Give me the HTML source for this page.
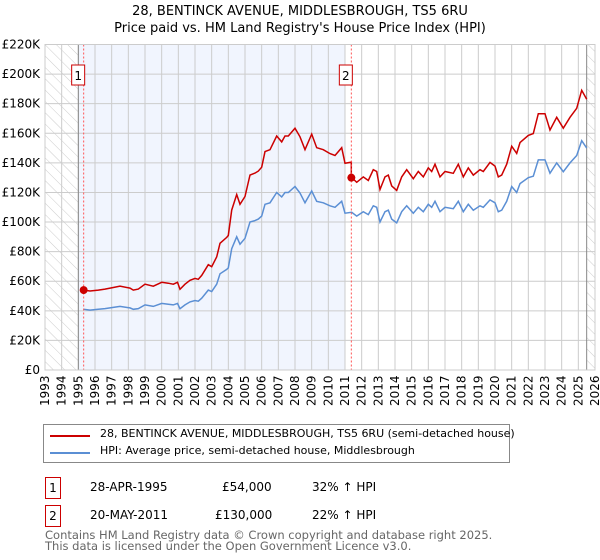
<!DOCTYPE html>
<html><head><meta charset="utf-8"><style>
body{margin:0;background:#fff;font-family:"DejaVu Sans","Liberation Sans",sans-serif;}
#wrap{position:relative;width:600px;height:560px;overflow:hidden}
.t{position:absolute;font-size:12px;color:#000;white-space:nowrap}
.box{position:absolute;border:1px solid #c00;width:14px;height:20px;text-align:center;font-size:12px;line-height:20px}
</style></head><body><div id="wrap">
<svg id="svg" width="600" height="560" style="position:absolute;left:0;top:0">
<defs><pattern id="hatch" width="8" height="8" patternUnits="userSpaceOnUse" patternTransform="rotate(-45)"><line x1="0" y1="0" x2="0" y2="8" stroke="#ccc" stroke-width="1"/></pattern></defs>
<text x="300" y="15" text-anchor="middle" font-size="13">28, BENTINCK AVENUE, MIDDLESBROUGH, TS5 6RU</text>
<text x="300" y="32" text-anchor="middle" font-size="13">Price paid vs. HM Land Registry's House Price Index (HPI)</text>
<g id="plot"></g>
</svg>
<div class="t" style="left:43px;top:424px;width:465px;height:37px;border:1px solid #888;position:absolute">
 <div style="position:absolute;left:6px;top:10px;width:40px;height:2px;background:#c00"></div>
 <div style="position:absolute;left:56px;top:2px;font-size:11px">28, BENTINCK AVENUE, MIDDLESBROUGH, TS5 6RU (semi-detached house)</div>
 <div style="position:absolute;left:6px;top:27px;width:40px;height:2px;background:#5b8fd4"></div>
 <div style="position:absolute;left:56px;top:19px;font-size:11px">HPI: Average price, semi-detached house, Middlesbrough</div>
</div>
<div class="box" style="left:45px;top:477px">1</div>
<div class="t" style="left:90px;top:480px">28-APR-1995</div>
<div class="t" style="left:222px;top:480px">£54,000</div>
<div class="t" style="left:312px;top:480px">32% ↑ HPI</div>
<div class="box" style="left:45px;top:505px">2</div>
<div class="t" style="left:90px;top:508px">20-MAY-2011</div>
<div class="t" style="left:215px;top:508px">£130,000</div>
<div class="t" style="left:312px;top:508px">22% ↑ HPI</div>
<div class="t" style="left:45px;top:530px;color:#666;font-size:11.5px;line-height:11px">Contains HM Land Registry data © Crown copyright and database right 2025.<br>This data is licensed under the Open Government Licence v3.0.</div>
</div>
<script>
const yTicks=[0,20,40,60,80,100,120,140,160,180,200,220];
const years=[];for(let y=1993;y<=2026;y++)years.push(y);
const hpiT=[1995.3,1995.7,1996.2,1996.6,1997.1,1997.5,1998.1,1998.3,1998.6,1999.0,1999.5,2000.0,2000.4,2000.7,2000.95,2001.1,2001.4,2001.7,2002.0,2002.2,2002.4,2002.8,2003.0,2003.3,2003.5,2003.9,2004.0,2004.2,2004.5,2004.7,2005.0,2005.3,2005.6,2005.8,2006.0,2006.2,2006.5,2006.9,2007.2,2007.4,2007.6,2008.0,2008.3,2008.6,2009.0,2009.3,2009.7,2010.1,2010.4,2010.8,2011.0,2011.4,2011.7,2012.1,2012.4,2012.7,2012.9,2013.1,2013.4,2013.6,2013.8,2014.1,2014.4,2014.7,2015.1,2015.4,2015.7,2016.0,2016.2,2016.4,2016.7,2017.0,2017.5,2017.8,2018.1,2018.4,2018.7,2019.1,2019.3,2019.7,2020.0,2020.2,2020.4,2020.7,2021.0,2021.3,2021.5,2022.0,2022.3,2022.6,2023.0,2023.3,2023.7,2024.1,2024.5,2024.9,2025.2,2025.5];
const hpiV=[41,40.5,41,41.5,42.3,43,42,41,41.5,44,43,45,44.5,44,45,41.4,44,46,47,46.5,48.5,54,53,58,65,68,69,82,90,85,89,100,101,102,104,112,113,120,117,120,120,124,119.6,113,121,114,113,111,110,114,106,106.6,104,107,105,111,110,100,107,108,102,99.5,107,111,106,110,107,112,110,114,107,110,109,114,107,112,108,111,110,115,113,107,108,114,124,120,126,130,131,142,142,133,140,134,140,145,155,150];
const sales=[{t:1995.32,p:54,n:'1'},{t:2011.38,p:130,n:'2'}];
const X0=45,X1=595,Y0=370,Y1=44.5;
const xs=t=>X0+(t-1993)/33*(X1-X0);
const ys=v=>Y0-v/220*(Y0-Y1);
const NS='http://www.w3.org/2000/svg';
const g=document.getElementById('plot');
function mk(tag,attrs){const e=document.createElementNS(NS,tag);for(const k in attrs)e.setAttribute(k,attrs[k]);g.appendChild(e);return e;}
let e;
e=mk('rect',{x:xs(1995),y:Y1,width:xs(2011)-xs(1995),height:Y0-Y1,fill:'#f1f5fe'});

e=mk('rect',{x:X0,y:Y1,width:xs(1995)-X0,height:Y0-Y1,fill:'url(#hatch)'});

e=mk('rect',{x:xs(2025.5),y:Y1,width:X1-xs(2025.5),height:Y0-Y1,fill:'url(#hatch)'});

yTicks.forEach(v=>{
 e=mk('line',{x1:X0,x2:X1,y1:ys(v),y2:ys(v),stroke:'#ccc','stroke-width':1});
 
 e=mk('text',{x:X0-5,y:ys(v)+4,'text-anchor':'end','font-size':12});e.textContent='£'+(v?v+'K':'0');
 
});
years.forEach(y=>{
 e=mk('line',{x1:xs(y),x2:xs(y),y1:Y1,y2:Y0,stroke:'#ccc','stroke-width':1});
 
 e=mk('text',{x:0,y:0,'font-size':12,transform:`translate(${xs(y)+4},${Y0+36}) rotate(-90)`});e.textContent=y;
 
});
e=mk('line',{x1:xs(1995),x2:xs(1995),y1:Y1,y2:Y0,stroke:'#888'});

e=mk('line',{x1:xs(2025.5),x2:xs(2025.5),y1:Y1,y2:Y0,stroke:'#888'});

function hpiAt(t){for(let i=1;i<hpiT.length;i++){if(t<=hpiT[i]){const f=(t-hpiT[i-1])/(hpiT[i]-hpiT[i-1]);return hpiV[i-1]+f*(hpiV[i]-hpiV[i-1]);}}return hpiV[hpiV.length-1];}
const ratios=sales.map(s=>s.p/hpiAt(s.t));
let bp='',rp='';
hpiT.forEach((t,i)=>{bp+=(i?'L':'M')+xs(t).toFixed(1)+','+ys(hpiV[i]).toFixed(1);});
const redPts=[];
hpiT.forEach((t,i)=>{
 sales.forEach((s,k)=>{if(k>0&&hpiT[i-1]<s.t&&t>=s.t){redPts.push([s.t,hpiAt(s.t)*ratios[k-1]]);redPts.push([s.t,s.p]);}});
 let k=0;sales.forEach((s,j)=>{if(t>=s.t)k=j;});
 if(t>=sales[0].t)redPts.push([t,hpiV[i]*ratios[k]]);
});
redPts.unshift([sales[0].t,sales[0].p]);
redPts.forEach((p,i)=>{rp+=(i?'L':'M')+xs(p[0]).toFixed(1)+','+ys(p[1]).toFixed(1);});
e=mk('path',{d:bp,fill:'none',stroke:'#5b8fd4','stroke-width':1.5});

e=mk('path',{d:rp,fill:'none',stroke:'#cc0000','stroke-width':1.5});

sales.forEach(s=>{
 e=mk('line',{x1:xs(s.t),x2:xs(s.t),y1:Y1,y2:Y0,stroke:'#f55','stroke-dasharray':'2,2'});
 
 e=mk('circle',{cx:xs(s.t),cy:ys(s.p),r:4,fill:'#cc0000'});
 
 e=mk('rect',{x:xs(s.t)-12,y:65,width:13,height:20,fill:'#fff',stroke:'#c00'});
 
 e=mk('text',{x:xs(s.t)-5.5,y:80,'text-anchor':'middle','font-size':12});e.textContent=s.n;
 
});
e=mk('rect',{x:X0,y:Y1,width:X1-X0,height:Y0-Y1,fill:'none',stroke:'#ccc'});

</script>
</body></html>
